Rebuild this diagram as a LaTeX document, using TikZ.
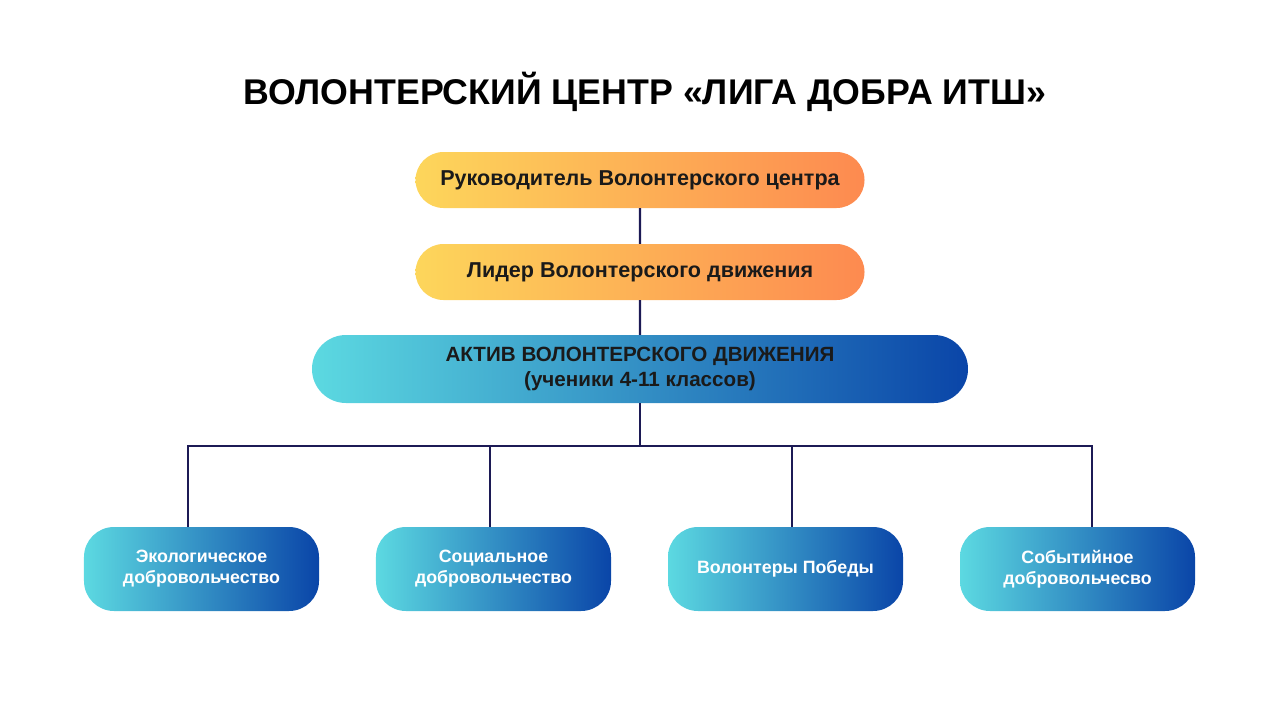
\documentclass[tikz,border=0pt]{standalone}
\usepackage{fontspec}
\setmainfont{Liberation Sans}
\usetikzlibrary{shapes.misc}
\definecolor{yel}{HTML}{FDD65B}
\definecolor{org}{HTML}{FD8A50}
\definecolor{cyanl}{HTML}{5CD9E1}
\definecolor{blued}{HTML}{0A45A8}
\definecolor{linec}{HTML}{1C1A55}
\definecolor{txt}{HTML}{1A1A1A}
\begin{document}
\begin{tikzpicture}[x=0.03cm,y=-0.03cm,
  orangebox/.style={rounded rectangle, minimum width=13.47cm, minimum height=1.68cm,
    left color=yel, right color=org, draw=none, text=txt, inner sep=0pt,
    font=\bfseries\fontsize{18.4}{21}\selectfont},
  bluebig/.style={rounded rectangle, minimum width=19.68cm, minimum height=2.04cm,
    left color=cyanl, right color=blued, draw=none, text=txt, inner sep=0pt,
    align=center, font=\bfseries\fontsize{17.6}{21}\selectfont},
  bluebox/.style={rectangle, rounded corners=0.9cm, minimum width=7.05cm, minimum height=2.52cm,
    left color=cyanl, right color=blued, draw=none, text=white, inner sep=0pt,
    align=center, font=\bfseries\fontsize{15.2}{18}\selectfont},
  conn/.style={draw=linec, line width=2pt}]
\useasboundingbox (0,0) rectangle (1280,720);
\node (title) at (645,92) {\bfseries\fontsize{30.5}{34}\selectfont ВОЛОНТЕРСКИЙ ЦЕНТР «ЛИГА ДОБРА ИТШ»};
\node[orangebox] (head) at (640,180) {Руководитель Волонтерского центра};
\node[orangebox] (lead) at (640,272) {Лидер Волонтерского движения};
\node[bluebig] (activ) at (640,369) {АКТИВ ВОЛОНТЕРСКОГО ДВИЖЕНИЯ\\(ученики 4-11 классов)};
\node[bluebox] (b1) at (201.5,569) {Экологическое\\добровольчество};
\node[bluebox] (b2) at (493.5,569) {Социальное\\добровольчество};
\node[bluebox] (b3) at (785.5,569) {Волонтеры Победы};
\node[bluebox] (b4) at (1077.5,569) {Событийное\\добровольчесво};
\coordinate (j) at (640,446);
\coordinate (h1) at (188,446);
\coordinate (h2) at (490,446);
\coordinate (h3) at (792,446);
\coordinate (h4) at (1092,446);
\draw[conn] (head) -- (lead);
\draw[conn] (lead) -- (activ);
\draw[conn] (activ.south) -- (j);
\draw[conn] (h1 |- b1.north) -- (h1) -- (h4) -- (h4 |- b4.north);
\draw[conn] (h2) -- (h2 |- b2.north);
\draw[conn] (h3) -- (h3 |- b3.north);
\end{tikzpicture}
\end{document}
